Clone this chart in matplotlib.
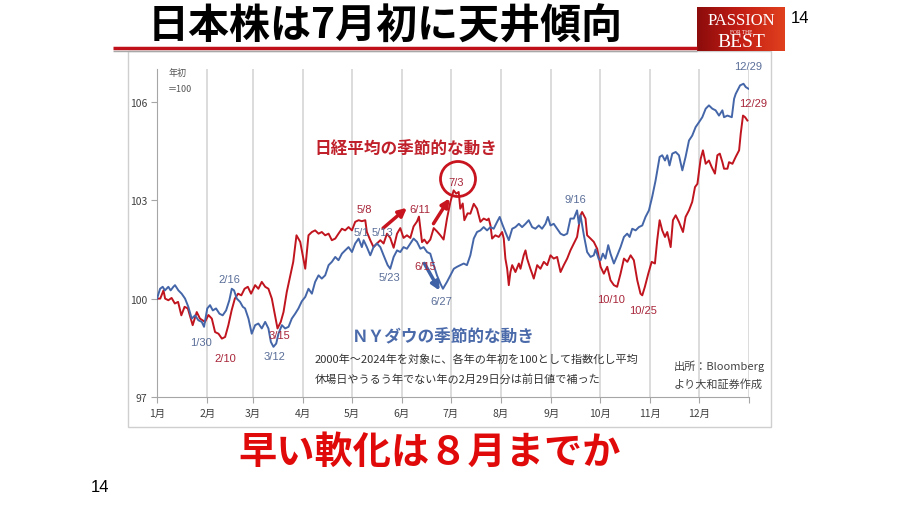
import matplotlib.pyplot as plt
import numpy as np
from matplotlib.patches import Rectangle, Circle, FancyArrowPatch
from matplotlib.colors import LinearSegmentedColormap

plt.rcParams['font.family'] = ['Noto Sans CJK JP', 'DejaVu Sans']

# --- data: seasonal index, start of year = 100 (day of year, value) ---
months = ['1月', '2月', '3月', '4月', '5月', '6月', '7月', '8月', '9月', '10月', '11月', '12月']
month_start = [0, 31, 59, 90, 120, 151, 181, 212, 243, 273, 304, 334]
y_ticks = [97, 100, 103, 106]

# Nikkei average
nk_day = [0, 2, 4, 5, 7, 9, 11, 13, 15, 17,
          19, 22, 24.5, 26.5, 29.6, 31.7, 33.8, 35.8, 37.9, 40,
          42, 44, 46, 48, 50, 52, 54, 56, 58, 60.5,
          62.5, 64.6, 66.7, 68.7, 70.8, 72.8, 74.3, 76.3, 78, 80,
          82, 84, 86, 88.3, 91.4, 93.4, 95.5, 97.5, 99.6, 101.6,
          103.7, 105.8, 107.8, 109.9, 111.9, 114, 116, 118.1, 120.2, 122.2,
          124.3, 126.3, 128.4, 129.4, 131.5, 133.5, 135.6, 137.7, 139.7, 141.8,
          143.8, 145.9, 148, 150, 152, 154.1, 156.2, 158.2, 160.3, 161.5,
          163.4, 164.8, 166.5, 168.5, 170.6, 172.6, 174.7, 176.7, 178.8, 180.9,
          182.9, 184.5, 186, 187, 188.5, 189.5, 191.5, 193.2, 195.3, 197.3,
          199.4, 201.4, 203.5, 204.5, 205.6, 206.6, 208.6, 210.7, 212.8, 213.8,
          214.8, 215.9, 216.9, 217.9, 219, 221, 223.1, 224.1, 226.1, 227.2,
          228.2, 230.2, 231.3, 232.3, 234.4, 236.4, 238.5, 240.6, 242.6, 244.6,
          246.7, 248.8, 250.8, 252.9, 254.9, 257, 259, 261.1, 262.1, 264.2,
          265.2, 267.3, 269.3, 271.4, 273.5, 275.5, 277.6, 279.6, 281.7, 283.7,
          285.8, 287.9, 290, 292, 294, 296.1, 298.1, 299.2, 300.8, 302.9,
          305, 307, 308.4, 309.9, 311.5, 313.2, 314.6, 316.7, 318.1, 319.8,
          321.8, 324.3, 325.9, 328, 330, 331.7, 333.2, 335.2, 336.6, 338.3,
          340.3, 342, 344, 345.5, 347, 348.6, 349.6, 351.7, 352.7, 354.8,
          356.8, 358.9, 359.9, 361.3, 362.6, 364]
nk_val = [100.0, 100.0, 100.25, 100.0, 99.95, 100.02, 99.85, 99.9, 99.49, 99.75,
          99.7, 99.19, 99.59, 99.39, 99.29, 99.5, 99.39, 98.98, 98.93, 98.78,
          98.83, 99.19, 99.64, 100.0, 100.15, 100.1, 100.3, 100.36, 100.15, 100.41,
          100.3, 100.51, 100.36, 100.3, 100.0, 99.49, 99.09, 99.29, 99.59, 100.2,
          100.66, 101.12, 101.93, 101.73, 100.91, 101.93, 102.03, 102.08, 101.98, 102.03,
          101.93, 101.98, 101.78, 101.83, 101.98, 102.13, 102.08, 102.18, 102.08, 102.34,
          102.39, 102.36, 102.39, 102.03, 101.78, 101.57, 101.68, 101.78, 101.68, 101.98,
          101.85, 101.55, 101.98, 102.15, 101.85, 101.93, 101.85, 102.2, 102.35, 102.5,
          101.72, 101.8, 101.68, 101.8, 102.15, 102.05, 101.93, 101.8, 102.44, 102.95,
          103.3, 103.2, 103.25, 102.74, 102.9, 102.39, 102.6, 102.59, 102.89, 102.74,
          102.34, 102.44, 102.39, 102.44, 102.23, 101.83, 101.93, 101.88, 102.03, 101.83,
          101.22, 100.91, 100.41, 100.81, 101.02, 100.81, 101.07, 100.91, 101.32, 101.47,
          101.22, 100.91, 100.76, 100.61, 101.02, 100.91, 101.12, 101.02, 101.32, 101.22,
          101.27, 100.81, 101.02, 101.22, 101.47, 101.68, 101.88, 102.54, 102.64, 102.44,
          101.93, 101.83, 101.73, 101.52, 100.97, 100.76, 100.97, 100.56, 100.41, 100.36,
          100.76, 101.22, 101.12, 101.32, 101.17, 100.56, 100.15, 100.1, 100.36, 100.76,
          101.12, 101.07, 101.78, 102.39, 102.08, 101.88, 102.03, 101.57, 102.39, 102.54,
          102.34, 102.03, 102.49, 102.69, 102.95, 103.4, 103.5, 104.26, 104.52, 104.11,
          104.21, 104.01, 103.81, 104.37, 104.42, 104.16, 103.96, 103.96, 104.16, 104.11,
          104.32, 104.52, 105.03, 105.58, 105.53, 105.43]

# NY Dow
dow_day = [0, 1.9, 3.5, 4.9, 7, 8.4, 10.1, 11.1, 13.2, 15.2,
           17.3, 19.3, 21.4, 23.5, 25.5, 27.6, 29, 31, 32.7, 34.4,
           36.4, 38.5, 40.5, 42.6, 44.6, 46.1, 47.5, 49.2, 51.2, 52.9,
           54.3, 56.4, 58.4, 60.5, 62.5, 64.6, 66.7, 68.7, 70.2, 71.8,
           73.5, 74.9, 77, 79, 81.1, 83.1, 85.2, 87.2, 89.3, 91.4,
           93.4, 95.5, 97.5, 99.6, 101.6, 103.7, 105.8, 107.8, 109.9, 111.9,
           114, 116, 118.1, 120.2, 122.2, 124.3, 126.3, 127.4, 129.4, 131.5,
           133.5, 135.6, 137.7, 139.7, 142.2, 143.8, 145.9, 148, 150, 152,
           154.1, 156.2, 158.2, 160.3, 162.4, 164.4, 166.5, 168.5, 170.6, 172.6,
           174.7, 176.3, 178.8, 180.9, 183, 185, 187, 189.1, 191.1, 193.2,
           195.3, 197.3, 199.4, 201.4, 203.5, 205.6, 207.6, 209.7, 211.3, 212.8,
           214.8, 216.9, 219, 221, 223.1, 225.1, 227.2, 229.2, 231.3, 233.3,
           235.4, 237.4, 239.5, 241, 242.6, 244.6, 246.7, 248.8, 250.8, 252.9,
           254.9, 257, 259, 260.1, 261.1, 263.2, 265.2, 267.3, 269.3, 270.4,
           272.4, 273.5, 274.9, 276.5, 278.2, 279.6, 281.7, 283.8, 285.8, 287.9,
           289.9, 291.4, 293, 295.1, 297.1, 299.2, 301.2, 303.3, 305.3, 307.4,
           309.9, 311.5, 313.2, 314.6, 316, 317.7, 319.8, 321.8, 323.9, 325.9,
           328, 330, 332.1, 334.2, 336.2, 338.3, 340.3, 342.4, 344.4, 346.5,
           348.6, 349.6, 351.7, 354.4, 355.8, 356.8, 359.5, 361.6, 363, 364.6]
dow_val = [100.0, 100.3, 100.36, 100.25, 100.36, 100.25, 100.36, 100.41, 100.25, 100.15,
           100.0, 99.75, 99.39, 99.49, 99.34, 99.29, 99.14, 99.7, 99.8, 99.64,
           99.7, 99.54, 99.49, 99.64, 99.95, 100.3, 100.25, 100.0, 99.9, 99.75,
           99.7, 99.39, 98.93, 99.19, 99.24, 99.09, 99.29, 99.09, 98.68, 98.53,
           98.63, 98.93, 99.19, 99.09, 99.14, 99.39, 99.54, 99.7, 99.92, 100.05,
           100.3, 100.15, 100.51, 100.71, 100.61, 100.71, 101.02, 101.12, 101.27, 101.17,
           101.37, 101.47, 101.57, 101.42, 101.68, 101.83, 101.57, 101.78, 101.57, 101.32,
           101.57, 101.68, 101.57, 101.32, 101.02, 100.91, 101.27, 101.47, 101.42, 101.57,
           101.52, 101.68, 101.83, 101.73, 101.52, 101.57, 101.42, 101.37, 101.02, 100.71,
           100.46, 100.3, 100.51, 100.71, 100.91, 100.97, 101.02, 101.07, 101.02, 101.32,
           101.83, 102.03, 102.08, 102.18, 102.08, 102.18, 102.13, 102.34, 102.49, 102.28,
           102.03, 101.78, 102.13, 102.18, 102.28, 102.18, 102.28, 102.39, 102.18, 102.13,
           102.23, 102.13, 102.28, 102.49, 102.23, 102.28, 102.13, 101.98, 101.93, 101.98,
           102.44, 102.44, 102.69, 102.28, 102.54, 101.93, 101.42, 101.27, 101.32, 101.5,
           101.2, 101.17, 101.37, 101.22, 101.63, 101.37, 101.07, 101.32, 101.57, 101.88,
           101.98, 101.88, 102.13, 102.08, 102.18, 102.23, 102.49, 102.69, 103.1, 103.6,
           104.32, 104.37, 104.21, 104.37, 104.06, 104.42, 104.47, 104.37, 103.91, 104.32,
           104.82, 104.97, 105.23, 105.38, 105.53, 105.79, 105.89, 105.79, 105.74, 105.58,
           105.74, 105.53, 105.58, 105.53, 106.09, 106.24, 106.5, 106.55, 106.45, 106.4]

RED = '#c0141e'
BLUE = '#4466a8'
RED_LBL = '#a8263a'
BLUE_LBL = '#5b6f99'

W, H = 900, 506
fig = plt.figure(figsize=(9, 5.06), dpi=100)
fig.patch.set_facecolor('white')

# main chart
ax = fig.add_axes([157 / W, 1 - 398 / H, 592 / W, 328 / H])
ax.plot(nk_day, nk_val, color=RED, lw=1.4, zorder=3)
ax.plot(dow_day, dow_val, color=BLUE, lw=1.4, zorder=3)
ax.set_xlim(0, 365)
ax.set_ylim(97, 107)
ax.set_xticks(month_start + [365])
ax.set_xticklabels(months + [''])
ax.set_yticks(y_ticks)
ax.grid(axis='x', color='#d6d6d6', lw=1.2)
ax.set_axisbelow(True)
for s in ['top', 'right']:
    ax.spines[s].set_visible(False)
for s in ['left', 'bottom']:
    ax.spines[s].set_color('#a6a6a6')
ax.tick_params(axis='x', length=4, color='#a6a6a6', labelsize=7.5, labelcolor='#404040', pad=4)
ax.tick_params(axis='y', length=4, color='#a6a6a6', labelsize=7.5, labelcolor='#404040', pad=3)

# overlay in pixel coordinates
ov = fig.add_axes([0, 0, 1, 1])
ov.set_xlim(0, W)
ov.set_ylim(H, 0)
ov.axis('off')

# chart frame
ov.add_patch(Rectangle((128, 52), 643, 376, fill=False, edgecolor='#cfcfcf', lw=1))

# title and underline
ov.text(385, 27, '日本株は7月初に天井傾向', ha='center', va='center',
        fontsize=29.5, fontweight='bold', color='black')
ov.plot([113, 697], [48.5, 48.5], color='#c0101a', lw=2.5, solid_capstyle='butt')
ov.plot([113, 697], [51.5, 51.5], color='#a8a8a8', lw=1, solid_capstyle='butt')

# logo
cmap = LinearSegmentedColormap.from_list('logo', ['#8c0c0c', '#c41e14', '#e0401e'])
grad = np.linspace(0, 1, 100).reshape(1, -1)
ov.imshow(grad, extent=(697, 785, 52, 8), aspect='auto', cmap=cmap, zorder=1)
ov.set_xlim(0, W)
ov.set_ylim(H, 0)
ov.text(741, 21, 'PASSION', ha='center', va='center', fontsize=12,
        family='Liberation Serif', color='white', zorder=2)
ov.text(741, 32, 'FOR THE', ha='center', va='center', fontsize=4,
        family='Liberation Serif', color='white', zorder=2)
ov.text(741, 42, 'BEST', ha='center', va='center', fontsize=14,
        family='Liberation Serif', color='white', zorder=2)
ov.text(800, 18, '14', ha='center', va='center', fontsize=12, family='Liberation Sans')
ov.text(100, 488, '14', ha='center', va='center', fontsize=12, family='Liberation Sans')

# unit note
ov.text(178, 73, '年初', ha='center', va='center', fontsize=6.5, color='#555555')
ov.text(180, 89, '＝100', ha='center', va='center', fontsize=6.5, color='#555555')

# series captions
ov.text(406, 150, '日経平均の季節的な動き', ha='center', va='center',
        fontsize=12, fontweight='bold', color='#c0202a')
ov.text(443, 337, 'ＮＹダウの季節的な動き', ha='center', va='center',
        fontsize=12, fontweight='bold', color='#4a6aaa')
ov.text(315, 360, '2000年～2024年を対象に、各年の年初を100として指数化し平均',
        ha='left', va='center', fontsize=8, color='#333333')
ov.text(315, 380, '休場日やうるう年でない年の2月29日分は前日値で補った',
        ha='left', va='center', fontsize=8, color='#333333')
ov.text(674, 366, '出所：Bloomberg', ha='left', va='center', fontsize=8, color='#444444')
ov.text(674, 384, 'より大和証券作成', ha='left', va='center', fontsize=8, color='#444444')

# date labels
labels = [
    ('2/16', 229, 280, BLUE_LBL), ('1/30', 201, 343, BLUE_LBL),
    ('2/10', 225, 359, RED_LBL), ('3/12', 274, 357, BLUE_LBL),
    ('3/15', 279, 336, RED_LBL), ('5/8', 364, 210, RED_LBL),
    ('5/1', 361, 233, BLUE_LBL), ('5/13', 382, 233, BLUE_LBL),
    ('5/23', 389, 278, BLUE_LBL), ('6/11', 420, 210, RED_LBL),
    ('6/15', 425, 267, RED_LBL), ('6/27', 441, 302, BLUE_LBL),
    ('7/3', 456, 183, RED_LBL), ('9/16', 575, 200, BLUE_LBL),
    ('10/10', 611, 300, RED_LBL), ('10/25', 643, 311, RED_LBL),
    ('12/29', 748, 67, BLUE_LBL), ('12/29', 753, 104, RED_LBL),
]
for txt, x, y, c in labels:
    ov.text(x, y, txt, ha='center', va='center', fontsize=8, color=c,
            family=['Liberation Sans', 'DejaVu Sans'])

# circle and arrows
ov.add_patch(Circle((458, 180), 17.5, fill=False, edgecolor='#c8141e', lw=2))
for (x0, y0, x1, y1, c) in [(381, 231, 409, 207, '#c8141e'),
                            (432, 227, 451, 197, '#c8141e'),
                            (423, 262, 441, 294, '#3f62a6')]:
    ov.add_patch(FancyArrowPatch((x0, y0), (x1, y1), arrowstyle='-|>',
                                 mutation_scale=12, lw=2.5, color=c))

# bottom message
ov.text(430, 452, '早い軟化は８月までか', ha='center', va='center',
        fontsize=27.5, fontweight='bold', color='#e00a0a')

fig.savefig('out.png', dpi=100)
